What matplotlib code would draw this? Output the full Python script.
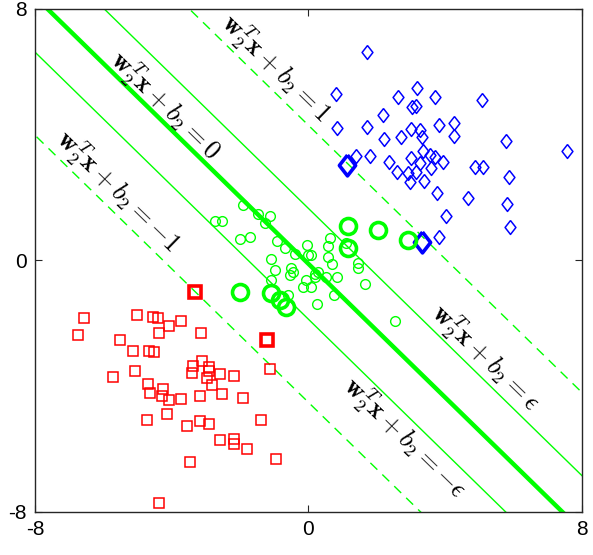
import numpy as np
import matplotlib.pyplot as plt

plt.rcParams['mathtext.fontset'] = 'cm'

# class +1 (blue diamonds)
blue_x = [1.72, 0.80, 3.18, 2.62, 3.72, 5.09, 3.04, 3.16, 2.17, 0.84, 1.72, 3.81, 4.26, 2.99, 3.26,
          2.21, 2.72, 3.32, 4.26, 5.77, 7.56, 3.35, 1.80, 1.39, 2.99, 3.55, 3.72, 2.35, 3.94, 3.26,
          3.59, 4.87, 5.11, 2.58, 2.92, 3.16, 2.96, 3.39, 5.86, 3.77, 4.67, 5.81, 4.04, 5.91, 3.81]
blue_y = [6.62, 5.28, 5.49, 5.19, 5.19, 5.10, 4.89, 4.92, 4.63, 4.20, 4.25, 4.31, 4.36, 4.18, 4.15,
          3.85, 3.91, 3.91, 3.96, 3.79, 3.49, 3.49, 3.31, 3.31, 3.25, 3.35, 3.30, 3.14, 3.14, 3.09,
          2.95, 2.98, 2.98, 2.80, 2.77, 2.82, 2.50, 2.52, 2.66, 2.13, 1.99, 1.81, 1.41, 1.06, 0.75]
blue_sv_x = [1.13, 3.32]
blue_sv_y = [3.05, 0.58]

# class -1 (red squares)
red_x = [-6.56, -6.74, -5.01, -4.56, -4.40, -3.73, -4.09, -4.37, -3.14, -5.51, -5.14, -4.67, -4.51,
         -5.06, -5.73, -3.10, -3.37, -2.90, -3.41, -2.90, -2.96, -2.59, -2.17, -2.82, -1.12, -4.69,
         -4.64, -4.24, -4.29, -4.08, -3.73, -3.18, -2.54, -1.90, -4.13, -4.73, -3.54, -3.18, -2.90,
         -1.40, -2.59, -2.17, -2.17, -1.81, -0.94, -3.46, -4.37]
red_y = [-1.83, -2.37, -1.72, -1.79, -1.83, -1.93, -2.07, -2.32, -2.32, -2.52, -2.87, -2.87, -2.92,
         -3.52, -3.72, -3.21, -3.36, -3.39, -3.57, -3.52, -3.73, -3.61, -3.67, -3.96, -3.46, -3.92,
         -4.21, -4.10, -4.30, -4.45, -4.41, -4.32, -4.26, -4.37, -4.87, -5.06, -5.26, -5.11, -5.21,
         -5.06, -5.70, -5.69, -5.85, -6.01, -6.31, -6.40, -7.70]
red_sv_x = [-3.32, -1.21]
red_sv_y = [-1.00, -2.52]

# class 0 (green circles)
green_x = [-1.91, -2.74, -2.54, -1.47, -1.13, -1.27, -1.99, -1.71, -0.93, -0.69, -0.40, -0.04, -1.08,
           -0.98, -0.01, -0.46, -0.51, -0.54, 0.19, -1.08, -0.06, -0.16, 0.09, -0.59, 0.24, 0.63,
           0.58, 0.58, 0.70, 1.45, 1.45, 0.28, 0.19, 0.53, 0.85, 1.67, 0.74, 2.55, 1.11, 0.09]
green_y = [1.76, 1.26, 1.26, 1.49, 1.41, 1.19, 0.67, 0.75, 0.62, 0.38, 0.22, 0.48, 0.06,
           -0.29, 0.17, -0.38, -0.25, -0.47, -0.42, -0.63, -0.63, -0.84, -0.84, -1.11, -1.37, 0.70,
           0.45, 0.11, -0.12, -0.08, -0.23, -0.37, -0.53, -0.54, -0.54, -0.74, -1.11, -1.93, 0.54, 0.17]
green_sv_x = [-2.01, -1.08, -0.84, -0.64, 1.16, 2.04, 2.92, 1.16]
green_sv_y = [-1.00, -1.05, -1.27, -1.48, 1.09, 0.96, 0.64, 0.41]

# hyperplane w2^T x + b2 = level
w2 = [0.241, 0.227]
b2 = 0.024
eps = 0.4

G = (0, 1, 0)
diamond = [(0, 1), (0.78, 0), (0, -1), (-0.78, 0), (0, 1)]

fig = plt.figure(figsize=(5.93, 5.55), dpi=100)
ax = fig.add_axes([0.059, 0.0775, 0.922, 0.9065])

xs = np.array([-9.0, 9.0])
def line_y(level):
    return (level - b2 - w2[0] * xs) / w2[1]

ax.plot(xs, line_y(0), color=G, lw=3.2)
ax.plot(xs, line_y(eps), color=G, lw=1.0)
ax.plot(xs, line_y(-eps), color=G, lw=1.0)
ax.plot(xs, line_y(1), color=G, lw=1.0, dashes=(7, 5))
ax.plot(xs, line_y(-1), color=G, lw=1.0, dashes=(7, 5))

ax.plot(blue_x, blue_y, ls='none', marker=diamond, ms=10, mfc='none', mec='b', mew=1.1)
ax.plot(red_x, red_y, ls='none', marker='s', ms=6.5, mfc='none', mec='r', mew=1.1)
ax.plot(green_x, green_y, ls='none', marker='o', ms=7, mfc='none', mec=G, mew=1.0)
ax.plot(blue_sv_x, blue_sv_y, ls='none', marker=diamond, ms=15, mfc='none', mec='b', mew=2.6)
ax.plot(red_sv_x, red_sv_y, ls='none', marker='s', ms=9, mfc='none', mec='r', mew=2.6)
ax.plot(green_sv_x, green_sv_y, ls='none', marker='o', ms=11.5, mfc='none', mec=G, mew=2.6)

ang = np.degrees(np.arctan2(-w2[0], w2[1]))
labels = [(-0.95, 6.12, r'$\mathbf{w}_2^T\mathbf{x}+b_2=1$'),
          (-4.2, 4.94, r'$\mathbf{w}_2^T\mathbf{x}+b_2=0$'),
          (-5.57, 2.2, r'$\mathbf{w}_2^T\mathbf{x}+b_2=-1$'),
          (5.16, -3.11, r'$\mathbf{w}_2^T\mathbf{x}+b_2=\epsilon$'),
          (2.82, -5.66, r'$\mathbf{w}_2^T\mathbf{x}+b_2=-\epsilon$')]
for lx, ly, s in labels:
    ax.text(lx, ly, s, fontsize=19, rotation=ang, transform_rotates_text=True,
            rotation_mode='anchor', ha='center', va='center')

ax.set_xlim(-8, 8)
ax.set_ylim(-8, 8)
ax.set_xticks([-8, 0, 8])
ax.set_yticks([-8, 0, 8])
ax.set_xticklabels(['-8', '0', '8'])
ax.set_yticklabels(['-8', '0', '8'])
ax.tick_params(direction='in', top=True, right=True, length=5, width=0.8, color='#262626',
               labelsize=15, pad=6)
for lab in ax.get_xticklabels() + ax.get_yticklabels():
    lab.set_family('Liberation Sans')
for sp in ax.spines.values():
    sp.set_color('#262626')
    sp.set_linewidth(1.0)

fig.savefig('out.png', dpi=100)
